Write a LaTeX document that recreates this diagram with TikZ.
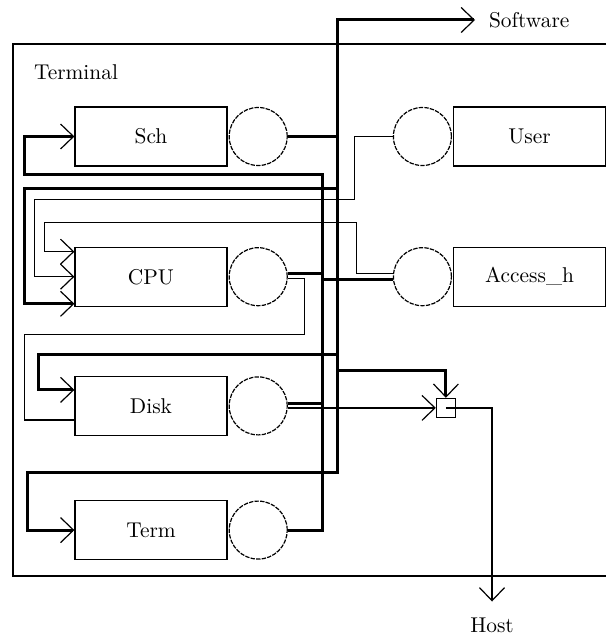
\documentclass[tikz,border=0pt]{standalone}
\usetikzlibrary{positioning, arrows.meta, calc}

\begin{document}
\begin{tikzpicture}[x=0.5pt, y=-0.5pt,
		every node/.style={font=\fontsize{10.7pt}{13pt}\selectfont},
		queueBox/.style={rectangle, draw, line width=0.6pt, minimum height=29.5pt, minimum width=76pt},
		server/.style={circle, draw, line width=0.6pt, dash pattern=on 2.2pt off 0.6pt, minimum size=29pt, inner sep=0pt},
		splitBox/.style={rectangle, draw, line width=0.6pt, minimum size=9.5pt, inner sep=0pt},
		heavy/.style={line width=1.5pt},
		light/.style={line width=0.6pt},
		barb/.style={-{Straight Barb[length=6.5pt, width=12.5pt, line width=0.6pt]}}]
		\useasboundingbox (0,0) rectangle (606,635);

		\node (sch)[queueBox] at (151,136.5) {Sch};
		\node (cpu)[queueBox, below=40pt of sch] {CPU};
		\node (disk)[queueBox, below=34.5pt of cpu] {Disk};
		\node (term)[queueBox, below=32pt of disk] {Term};
		\node (schServer)[server, right=0.5pt of sch] {};
		\node (cpuServer)[server, right=0.5pt of cpu] {};
		\node (diskServer)[server, right=0.5pt of disk] {};
		\node (termServer)[server, right=0.5pt of term] {};
		\node (userServer)[server, right=52.5pt of schServer] {};
		\node (user)[queueBox, right=0.5pt of userServer] {User};
		\node (accessHServer)[server, right=52.5pt of cpuServer] {};
		\node (accessH)[queueBox, right=0.5pt of accessHServer] {Access\_h};
		\node (hostSplit)[splitBox, right=74pt of diskServer, yshift=-1pt] {};
		\node (terminalLabel)[anchor=west] at (27,72) {Terminal};
		\node (software)[anchor=west] at (482,20) {Software};
		\node (host) at (492,625) {Host};
		\coordinate (outBus) at (337,20);
		\coordinate (retBus) at (322,175);

		\draw[light] (606,44) -- (13,44) -- (13,576) -- (606,576);

		\draw[heavy, barb, shorten >=3.5pt] (schServer.east) -| (outBus) -- (software.west);
		\draw[heavy, barb] (schServer.east -| outBus) |- ++(-313,52.5) |- ([yshift=1.5pt]cpu.south west);
		\draw[heavy, barb] (schServer.east -| outBus) |- ++(-299,217.5) |- ([yshift=8pt]disk.west);
		\draw[heavy, barb] (schServer.east -| outBus) |- ($(hostSplit.north)+(0,-27)$) -- (hostSplit.north);
		\draw[heavy, barb] (schServer.east -| outBus) |- ++(-310,335.5) |- (term.west);

		\draw[heavy, barb] (termServer.east) -| (retBus) -- ++(-298,0) |- (sch.west);
		\draw[heavy] ([yshift=1.5pt]cpuServer.east) -| (retBus);
		\draw[heavy] ([yshift=1pt]diskServer.east) -| (retBus);
		\draw[heavy] ([yshift=-1.5pt]accessHServer.west) -| (retBus);

		\draw[light, barb] (userServer.west) -- ++(-38,0) |- ++(-320,63) |- (cpu.west);
		\draw[light, barb] ([yshift=1.5pt]accessHServer.west) -- ++(-36,0) |- ++(-312,-51) |- ([yshift=12.5pt]cpu.west);
		\draw[light] ([yshift=-1pt]cpuServer.east) -- ++(17,0) |- ++(-280,56) |- ([yshift=-7pt]disk.west);
		\draw[light, barb] ([yshift=-1pt]diskServer.east) -- (hostSplit.west);
		\draw[light, barb, shorten >=4.5pt] (hostSplit.center) -| (host.north);
	\end{tikzpicture}
\end{document}
